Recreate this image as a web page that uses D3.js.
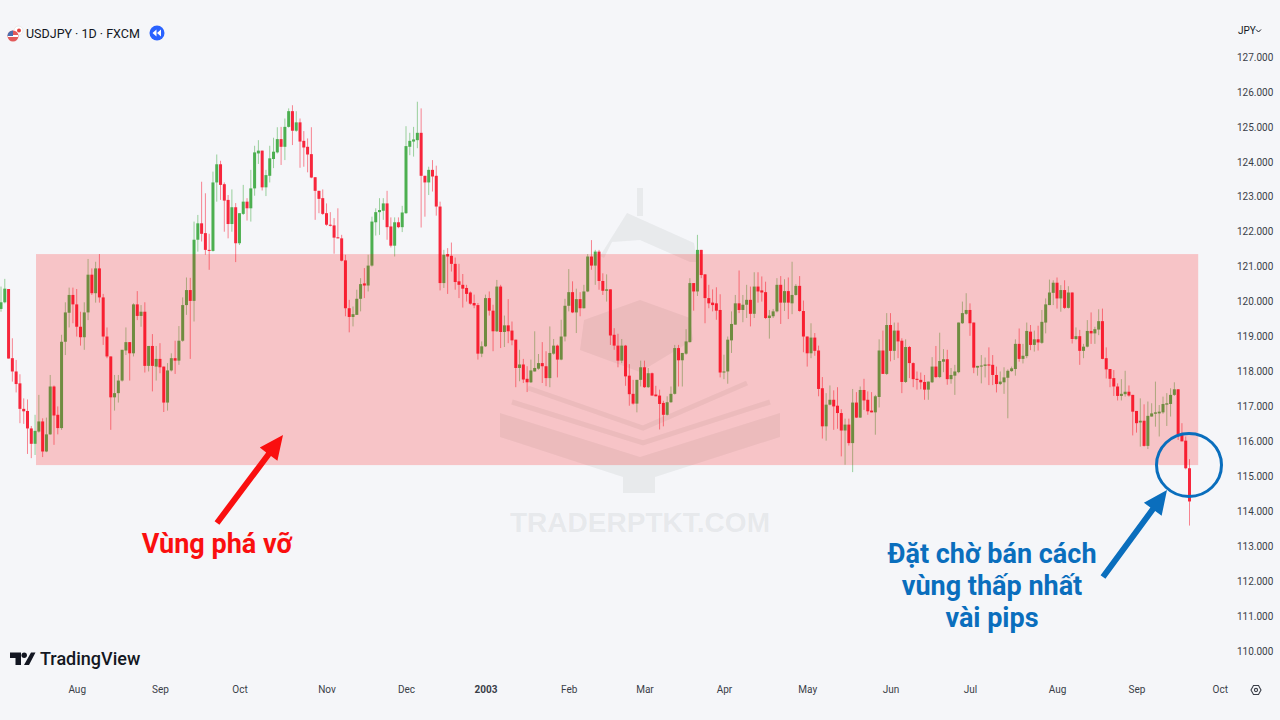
<!DOCTYPE html>
<html>
<head>
<meta charset="utf-8">
<script src="https://cdn.jsdelivr.net/npm/d3@7"></script>
<style>
  html, body { margin: 0; padding: 0; background: #f5f6f9; }
  svg { display: block; font-family: Roboto, sans-serif; }
</style>
</head>
<body>
<svg id="chart" width="1280" height="720"></svg>
<script>
// USDJPY daily candles, one entry per trading day
const opens = [
  119.79,119.98,120.36,118.38,118.0,117.66,116.93,116.87,116.37,115.93,
  116.28,116.57,115.71,116.2,117.57,116.76,116.38,118.85,119.68,120.19,
  119.92,119.28,118.98,119.69,120.77,120.24,120.95,120.12,119.0,118.43,
  117.26,117.38,117.74,118.6,118.84,118.52,119.92,119.59,119.71,118.16,
  118.73,118.14,118.36,118.14,117.11,118.03,118.38,118.31,118.88,119.9,
  120.33,120.02,121.77,122.24,121.96,121.48,121.45,123.41,123.93,123.36,
  122.91,122.22,122.7,121.67,122.51,122.86,122.67,123.24,124.24,124.32,
  123.27,123.6,124.08,124.27,124.65,124.43,125.0,125.45,124.89,125.13,
  124.6,124.43,124.22,123.56,123.17,122.96,122.53,122.2,122.18,121.84,
  121.81,121.18,119.81,119.56,119.62,120.08,120.52,120.46,121.03,122.27,
  122.56,122.6,122.81,122.15,121.6,122.27,122.13,122.53,124.43,124.58,
  124.62,124.83,123.6,123.41,123.77,123.6,122.72,120.53,121.36,121.31,
  121.08,120.58,120.48,120.39,120.26,119.96,119.9,118.51,118.72,120.1,
  119.74,119.15,120.43,119.13,119.32,119.17,118.91,118.1,118.2,117.79,
  117.69,118.0,118.08,118.24,118.15,117.81,118.51,118.74,118.34,119.0,
  119.88,120.27,119.69,120.07,119.81,120.29,121.29,121.03,121.43,120.59,
  120.31,120.35,119.05,118.74,118.31,118.74,117.88,117.36,117.08,117.76,
  118.12,117.55,117.95,117.34,117.31,117.1,116.76,117.12,117.36,118.67,
  118.32,118.51,118.84,120.53,120.29,121.48,120.78,120.1,119.97,119.95,
  119.76,117.97,118.0,118.89,119.34,119.95,119.76,119.91,120.05,119.65,
  120.43,120.32,120.27,119.53,119.58,119.72,120.48,119.97,120.3,119.95,
  120.19,120.45,119.73,119.0,118.52,118.97,118.6,117.52,116.43,117.05,
  117.19,117.02,116.81,116.31,116.48,115.95,117.11,116.68,117.47,117.19,
  116.88,116.83,117.27,118.6,117.93,119.33,118.59,119.17,118.88,117.7,
  118.7,118.24,117.79,117.76,117.7,117.48,117.69,118.14,117.84,118.28,
  118.35,117.78,117.88,117.98,119.38,119.65,119.76,119.4,118.11,118.14,
  118.16,118.2,118.19,117.9,117.64,117.69,117.82,118.01,118.07,118.79,
  118.36,118.44,119.14,118.76,118.92,118.82,119.4,119.9,120.25,120.54,
  120.09,120.33,119.82,120.26,118.93,119.01,118.59,118.71,119.16,119.09,
  119.2,119.44,118.38,118.07,117.81,117.57,117.3,117.35,117.42,117.33,
  116.87,116.54,116.59,115.87,116.71,116.79,116.8,116.83,117.05,117.07,
  117.33,117.49,116.19,116.02,115.23
];
const closes = [
  119.98,120.37,118.37,118.0,117.64,116.93,116.86,116.37,115.93,116.3,
  116.57,115.71,116.2,117.57,116.74,116.38,118.85,119.69,120.19,119.92,
  119.28,118.98,119.69,120.77,120.24,120.95,120.12,119.0,118.43,117.26,
  117.38,117.74,118.62,118.84,118.52,119.92,119.59,119.71,118.16,118.73,
  118.16,118.36,118.12,117.11,118.03,118.38,118.31,118.88,119.9,120.33,
  120.02,121.77,122.24,121.94,121.48,121.45,123.41,123.93,123.34,122.89,
  122.22,122.7,121.67,122.53,122.86,122.67,123.24,124.27,124.32,123.27,
  123.62,124.1,124.29,124.65,124.43,125.0,125.45,124.89,125.13,124.58,
  124.41,124.21,123.55,123.17,122.94,122.51,122.2,122.17,121.83,121.81,
  121.17,119.81,119.56,119.64,120.08,120.5,120.46,121.03,122.29,122.56,
  122.62,122.81,122.13,121.6,122.27,122.13,122.55,124.45,124.6,124.64,
  124.83,123.6,123.41,123.77,123.58,122.72,120.53,121.34,121.29,121.08,
  120.56,120.48,120.37,120.22,119.94,119.89,118.51,118.72,120.1,119.74,
  119.15,120.43,119.13,119.32,119.15,118.89,118.1,118.2,117.77,117.69,
  118.03,118.1,118.24,118.15,117.81,118.53,118.74,118.34,119.0,119.88,
  120.27,119.69,120.07,119.81,120.29,121.29,121.03,121.43,120.59,120.31,
  120.35,119.03,118.74,118.31,118.74,117.86,117.35,117.08,117.76,118.12,
  117.55,117.95,117.31,117.29,117.07,116.76,117.12,117.36,118.67,118.32,
  118.53,118.86,120.53,120.29,121.48,120.76,120.1,119.95,119.9,119.74,
  117.97,118.0,118.91,119.36,119.95,119.76,119.91,120.05,119.65,120.43,
  120.29,120.26,119.53,119.6,119.72,120.48,119.97,120.3,119.97,120.19,
  120.45,119.73,119.0,118.52,118.97,118.59,117.5,116.43,117.05,117.19,
  117.0,116.81,116.31,116.48,115.95,117.11,116.68,117.47,117.17,116.86,
  116.83,117.29,118.6,117.93,119.33,118.59,119.17,118.86,117.7,118.7,
  118.24,117.78,117.76,117.69,117.48,117.71,118.14,117.84,118.3,118.35,
  117.78,117.9,118.0,119.4,119.67,119.76,119.38,118.11,118.16,118.17,
  118.2,118.17,117.9,117.64,117.71,117.83,118.02,118.09,118.79,118.36,
  118.45,119.16,118.76,118.92,118.83,119.42,119.92,120.26,120.54,120.09,
  120.33,119.82,120.26,118.93,119.01,118.59,118.71,119.16,119.09,119.21,
  119.44,118.36,118.06,117.79,117.57,117.3,117.36,117.42,117.31,116.85,
  116.52,116.59,115.87,116.73,116.8,116.83,116.85,117.07,117.09,117.33,
  117.49,116.19,116.0,115.23,114.28
];
const highs = [
  120.43,120.65,120.36,118.95,118.33,117.92,117.23,117.2,116.44,116.76,
  117.33,116.66,116.68,117.9,117.6,117.0,119.05,119.98,120.4,120.4,
  120.36,119.71,119.98,121.22,120.95,121.14,121.36,120.22,119.26,118.43,
  117.9,117.9,118.62,119.26,118.84,119.95,120.3,119.9,119.98,118.73,
  119.07,118.73,118.81,118.14,118.24,118.52,118.88,119.3,120.12,120.69,
  120.68,122.29,122.48,123.43,123.1,121.94,123.72,124.21,124.03,123.41,
  123.05,123.21,122.82,122.53,123.34,122.96,123.77,124.46,124.62,124.32,
  123.77,124.46,124.69,124.99,125.0,125.24,125.53,125.62,125.45,125.24,
  124.88,124.67,124.99,123.56,123.17,123.21,122.81,122.56,122.39,122.67,
  121.91,121.34,120.05,119.86,120.34,120.67,120.96,121.34,122.43,122.67,
  122.96,122.96,123.17,122.41,122.41,122.41,122.74,125.02,124.83,125.0,
  125.72,125.53,123.6,123.86,124.05,123.89,122.86,121.48,121.53,121.69,
  121.26,121.08,120.79,120.48,120.29,120.2,119.96,118.86,120.2,120.29,
  119.91,120.62,120.48,119.6,120.07,119.43,118.91,118.62,118.36,118.15,
  118.34,119.15,118.5,118.84,118.58,119.29,118.93,118.77,119.48,120.08,
  120.93,120.58,120.37,120.27,120.48,121.36,121.76,121.48,121.48,120.81,
  120.78,120.35,119.24,119.08,118.93,118.76,118.21,117.76,117.76,118.31,
  118.31,118.1,117.97,117.59,117.48,117.16,117.29,117.57,118.76,118.76,
  118.53,119.21,120.67,120.53,121.91,121.48,120.78,120.48,120.35,120.41,
  120.21,118.48,119.0,119.72,120.19,120.89,120.19,120.48,120.43,120.84,
  120.84,120.72,120.57,119.76,119.79,120.67,120.73,120.64,120.69,121.14,
  120.5,120.73,120.03,119.0,119.38,119.1,118.74,117.84,117.38,117.6,
  117.46,117.55,116.92,116.65,116.65,117.5,117.41,117.57,117.79,117.43,
  117.41,117.33,118.92,119.17,119.67,119.67,119.4,119.4,118.95,118.92,
  118.73,118.26,118.0,117.97,117.9,117.71,118.41,118.73,119.11,118.64,
  118.62,118.1,118.19,119.4,120.0,120.24,119.95,119.4,118.16,118.47,
  118.4,118.69,118.47,118.14,118.0,118.12,118.06,118.14,118.92,119.23,
  118.79,119.4,119.33,119.17,119.31,119.76,120.09,120.63,120.61,120.69,
  120.47,120.61,120.44,120.26,119.26,119.19,118.79,119.47,119.69,119.28,
  119.78,119.8,118.69,118.07,118.04,117.66,117.78,118.02,117.6,117.33,
  116.87,117.23,117.06,117.14,117.09,117.71,117.04,117.28,117.38,117.52,
  117.69,117.49,116.52,116.14,115.49
];
const lows = [
  119.71,119.95,118.37,117.71,117.4,116.52,116.5,115.64,115.52,115.61,
  116.25,115.55,115.69,116.19,115.9,116.2,116.33,118.47,119.26,119.38,
  119.0,118.74,118.62,119.47,120.19,119.97,119.97,118.76,118.38,116.33,
  116.88,117.11,117.71,118.47,117.74,118.43,119.47,119.28,117.97,118.0,
  117.43,117.74,117.95,116.84,116.88,118.0,117.93,118.19,118.85,119.62,
  118.36,119.43,121.43,121.72,121.34,120.91,121.43,122.86,122.91,122.0,
  121.81,122.0,121.13,121.62,122.48,122.32,122.29,123.03,123.94,123.18,
  123.02,123.41,123.82,124.24,123.91,124.05,124.98,124.48,124.86,123.83,
  123.86,123.7,123.53,122.34,122.53,122.48,122.17,122.15,121.37,121.81,
  121.15,119.58,119.12,119.29,119.62,119.72,120.1,120.29,121.0,121.89,
  121.91,122.34,121.77,121.55,121.29,122.1,121.99,122.51,124.19,124.15,
  124.39,122.12,122.43,123.05,123.15,122.46,120.32,120.39,120.22,120.86,
  120.34,120.1,119.83,120.0,119.91,119.81,118.34,118.41,118.7,119.6,
  118.58,119.13,118.67,118.7,118.81,118.75,117.55,117.72,117.67,117.41,
  117.67,118.0,118.05,117.67,117.58,117.55,118.48,117.83,118.32,118.86,
  119.72,119.67,119.1,119.58,119.8,120.27,120.91,120.48,120.34,120.19,
  120.0,118.76,118.62,118.12,118.24,117.59,117.02,117.05,116.83,117.57,
  117.53,117.53,117.31,117.29,116.34,116.43,116.74,117.1,117.34,117.57,
  117.57,118.48,118.83,119.74,120.16,120.67,119.38,119.81,119.72,119.48,
  117.83,117.78,117.65,118.53,119.34,119.67,119.41,119.53,119.29,119.53,
  119.97,120.0,119.5,118.94,119.53,119.69,119.36,119.73,119.5,119.64,
  120.17,119.71,118.55,118.14,118.38,118.45,117.29,116.08,116.02,117.03,
  116.33,116.36,115.57,115.33,115.88,115.12,116.67,116.67,116.9,116.76,
  116.83,116.19,116.97,117.93,117.9,118.29,118.33,118.38,117.38,117.67,
  117.81,117.55,117.48,117.49,117.19,117.19,117.67,117.81,117.81,117.98,
  117.62,117.65,117.33,117.95,119.36,119.62,119.02,117.95,117.88,117.66,
  117.83,117.61,117.61,117.4,117.61,117.36,116.66,117.99,117.88,118.28,
  118.23,118.38,118.61,118.57,118.6,118.79,119.09,119.9,119.9,119.8,
  119.71,119.79,119.8,118.8,118.9,118.19,118.38,118.69,118.79,118.79,
  119.04,118.35,117.8,117.55,117.3,117.17,117.17,117.28,117.28,116.17,
  116.25,115.85,115.85,115.78,116.71,116.42,116.14,116.79,116.44,116.71,
  117.3,116.04,116.0,115.2,113.59
];

// axis ticks: price levels, and the bar index where each month starts
const priceTicks = [110,111,112,113,114,115,116,117,118,119,120,121,122,123,124,125,126,127];
const monthBars = [20,42,63,86,107,128,150,170,191,213,235,256,279,300,322];
const monthLabels = ['Aug','Sep','Oct','Nov','Dec','2003','Feb','Mar','Apr','May','Jun','Jul','Aug','Sep','Oct'];

// breakout zone, prices and bar indexes
const zonePrices = [121.36, 115.32];
const zoneBars = [9.25, 316.3];

const upColor = '#4caf50';
const downColor = '#f7263c';
const blue = '#0a6ebd';
const red = '#fa0f0f';

const svg = d3.select('#chart');

const xScale = d3.scaleLinear().domain([0, 314]).range([1, 1189.5]);
const yScale = d3.scaleLinear().domain([110, 127]).range([651, 57]);

// watermark sits under the candles
const mark = svg.append('g').attr('class', 'watermark').attr('fill', '#8c9098').attr('fill-opacity', 0.12);
[
  'M637,188H643V216H637Z',
  'M600,256L627,213L694,243L697,262L690,262L640,240L612,242L604,258Z',
  'M584,320L640,300L690,318L693,340L640,372L580,350Z',
  'M500,413L640,457L780,413V437L655,477V493H623V477L500,437Z'
].forEach(d => mark.append('path').attr('d', d));
[
  'M512,402L643,443L770,402',
  'M528,388L643,428L747,383'
].forEach(d => mark.append('path').attr('d', d).attr('fill', 'none')
  .attr('stroke', '#8c9098').attr('stroke-opacity', 0.12).attr('stroke-width', 5));
svg.append('text').attr('x', 640).attr('y', 532).attr('text-anchor', 'middle')
  .attr('textLength', 260).attr('lengthAdjust', 'spacingAndGlyphs')
  .style('font-family', '"Liberation Sans", sans-serif').style('font-weight', 700).style('font-size', '28px')
  .attr('fill', '#8c9098').attr('fill-opacity', 0.14).text('TRADERPTKT.COM');

// candles
const candles = svg.append('g').attr('class', 'candles')
  .selectAll('g').data(opens.map((_, i) => i)).enter().append('g')
  .attr('fill', i => closes[i] >= opens[i] ? upColor : downColor);

candles.append('rect')
  .attr('x', i => xScale(i) - 0.5)
  .attr('width', 1)
  .attr('y', i => yScale(highs[i]))
  .attr('height', i => yScale(lows[i]) - yScale(highs[i]))
  .attr('fill-opacity', 0.55);

candles.append('rect')
  .attr('x', i => xScale(i) - 1.5)
  .attr('width', 3)
  .attr('y', i => yScale(Math.max(opens[i], closes[i])))
  .attr('height', i => Math.max(1, Math.abs(yScale(opens[i]) - yScale(closes[i]))));

// the zone lies over the candles, that is what turns the green ones olive
svg.append('rect')
  .attr('x', xScale(zoneBars[0]))
  .attr('width', xScale(zoneBars[1]) - xScale(zoneBars[0]))
  .attr('y', yScale(zonePrices[0]))
  .attr('height', yScale(zonePrices[1]) - yScale(zonePrices[0]))
  .attr('fill', 'rgba(255,0,0,0.2)');

// axes
const yAxis = svg.append('g').attr('transform', 'translate(1237,0)')
  .call(d3.axisRight(yScale).tickValues(priceTicks).tickSize(0).tickPadding(0).tickFormat(d3.format('.3f')));
const xAxis = svg.append('g').attr('transform', 'translate(0,683)')
  .call(d3.axisBottom(xScale).tickValues(monthBars).tickSize(0).tickPadding(3).tickFormat((d, i) => monthLabels[i]));
yAxis.select('.domain').remove();
xAxis.select('.domain').remove();
svg.selectAll('.tick text')
  .style('font-family', 'Roboto, sans-serif').style('font-size', '10px').attr('fill', '#3a3e48');
xAxis.selectAll('.tick text').filter((d, i) => monthLabels[i] === '2003').style('font-weight', 700);

// header
const flag = svg.append('g');
flag.append('circle').attr('cx', 18.5).attr('cy', 30.5).attr('r', 4.5).attr('fill', '#fff').attr('stroke', '#ddd').attr('stroke-width', 0.6);
flag.append('circle').attr('cx', 19).attr('cy', 30.5).attr('r', 2).attr('fill', '#e2403f');
flag.append('circle').attr('cx', 13).attr('cy', 36).attr('r', 5.5).attr('fill', '#e25a5a');
flag.append('rect').attr('x', 8).attr('y', 35).attr('width', 10).attr('height', 2).attr('fill', '#fff');
flag.append('path').attr('d', 'M7.5,36A5.5,5.5 0 0 1 13,30.5V36Z').attr('fill', '#4a6fb0');
svg.append('text').attr('x', 26).attr('y', 38).attr('fill', '#131722')
  .style('font-size', '12.5px').text('USDJPY · 1D · FXCM');
svg.append('circle').attr('cx', 157).attr('cy', 33).attr('r', 7.5).attr('fill', '#2962ff');
svg.append('path').attr('d', 'M156.5,29.5V36.5L152.5,33ZM161,29.5V36.5L157,33Z').attr('fill', '#fff');
svg.append('text').attr('x', 1238).attr('y', 34).attr('fill', '#131722').style('font-size', '10px').text('JPY');
svg.append('path').attr('d', 'M1256,29.5L1258.5,32L1261,29.5').attr('fill', 'none').attr('stroke', '#131722').attr('stroke-width', 1);

// TradingView logo
svg.append('path').attr('fill', '#131722')
  .attr('d', 'M10,652.5H21V665H15.5V658H10ZM31,652.5H35.5L29,665H24Z');
svg.append('circle').attr('cx', 24.2).attr('cy', 655.3).attr('r', 2.7).attr('fill', '#131722');
svg.append('text').attr('x', 40).attr('y', 665).attr('fill', '#131722')
  .style('font-size', '18px').style('font-weight', 500).text('TradingView');

// settings gear
svg.append('path').attr('d', 'M1251,690L1253.5,685.5H1258.5L1261,690L1258.5,694.5H1253.5Z')
  .attr('fill', 'none').attr('stroke', '#3a3e48').attr('stroke-width', 1.1);
svg.append('circle').attr('cx', 1256).attr('cy', 690).attr('r', 1.6)
  .attr('fill', 'none').attr('stroke', '#3a3e48').attr('stroke-width', 1.1);

// annotation arrows
function arrow(x1, y1, x2, y2, color) {
  const a = Math.atan2(y2 - y1, x2 - x1);
  const bx = x2 - 24 * Math.cos(a);
  const by = y2 - 24 * Math.sin(a);
  const nx = -Math.sin(a);
  const ny = Math.cos(a);
  const line = d3.path();
  line.moveTo(x1 + nx * 3, y1 + ny * 3);
  line.lineTo(bx + nx * 3, by + ny * 3);
  line.lineTo(bx + nx * 11, by + ny * 11);
  line.lineTo(x2, y2);
  line.lineTo(bx - nx * 11, by - ny * 11);
  line.lineTo(bx - nx * 3, by - ny * 3);
  line.lineTo(x1 - nx * 3, y1 - ny * 3);
  line.closePath();
  svg.append('path').attr('d', line.toString()).attr('fill', color);
}
arrow(217, 523, 283, 435, red);
arrow(1103, 577, 1167, 490, blue);

svg.append('ellipse').attr('cx', 1189).attr('cy', 465).attr('rx', 32.5).attr('ry', 31.5)
  .attr('fill', 'none').attr('stroke', blue).attr('stroke-width', 3);

svg.append('text').attr('x', 217).attr('y', 553).attr('text-anchor', 'middle').attr('fill', red)
  .style('font-size', '27px').style('font-weight', 700).text('Vùng phá vỡ');
['Đặt chờ bán cách', 'vùng thấp nhất', 'vài pips'].forEach((line, i) => {
  svg.append('text').attr('x', 992).attr('y', 563 + i * 32).attr('text-anchor', 'middle').attr('fill', blue)
    .style('font-size', '27px').style('font-weight', 700).text(line);
});
</script>
</body>
</html>
